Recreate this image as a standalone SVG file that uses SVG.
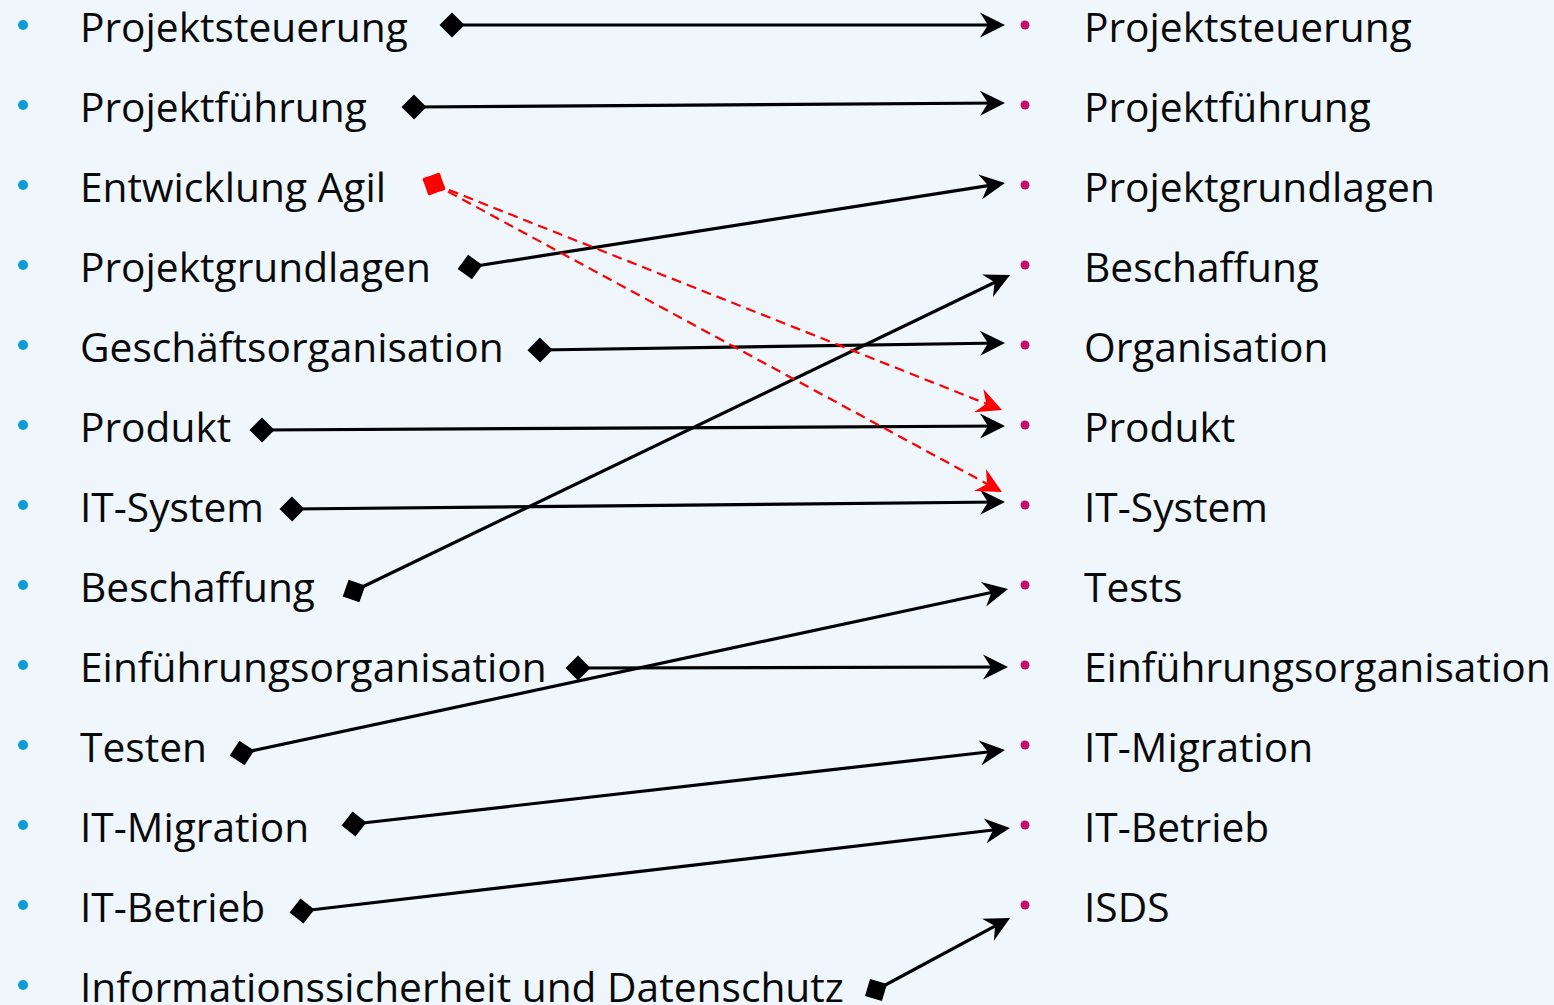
<svg xmlns="http://www.w3.org/2000/svg" width="1554" height="1005" viewBox="0 0 1554 1005">
<style>
.t{font-family:"Open Sans","Liberation Sans",sans-serif;font-size:40.7px;fill:#0a0a0a}
.bl{fill:#0E9BDB}
.br{fill:#C0106B}
.c{fill:none;stroke:#000;stroke-width:3.2;marker-start:url(#dia);marker-end:url(#arr)}
.r{fill:none;stroke:#FF0000;stroke-width:2.2;stroke-dasharray:10 6;marker-start:url(#diaR);marker-end:url(#arrR)}
</style>
<defs>
<marker id="dia" markerUnits="userSpaceOnUse" markerWidth="26" markerHeight="26" refX="12.5" refY="12.5" orient="auto" overflow="visible"><path d="M0,12.5 L12.5,0 L25,12.5 L12.5,25 Z" fill="#000"/></marker>
<marker id="diaR" markerUnits="userSpaceOnUse" markerWidth="26" markerHeight="26" refX="12.5" refY="12.5" orient="auto" overflow="visible"><path d="M0,12.5 L12.5,0 L25,12.5 L12.5,25 Z" fill="#FF0000"/></marker>
<marker id="arr" markerUnits="userSpaceOnUse" markerWidth="26" markerHeight="26" refX="21" refY="12.5" orient="auto" overflow="visible"><path d="M0,0 L25,12.5 L0,25 L8,12.5 Z" fill="#000"/></marker>
<marker id="arrR" markerUnits="userSpaceOnUse" markerWidth="26" markerHeight="26" refX="21" refY="12.5" orient="auto" overflow="visible"><path d="M0,0 L25,12.5 L0,25 L8,12.5 Z" fill="#FF0000"/></marker>
</defs>
<rect x="0" y="0" width="1554" height="1005" fill="#EFF7FD"/>
<g id="left">
<g id="l1"><circle class="bl" cx="23" cy="25" r="5"/><text class="t" x="80" y="42">Projektsteuerung</text></g>
<g id="l2"><circle class="bl" cx="23" cy="105" r="5"/><text class="t" x="80" y="122">Projektführung</text></g>
<g id="l3"><circle class="bl" cx="23" cy="185" r="5"/><text class="t" x="80" y="202">Entwicklung Agil</text></g>
<g id="l4"><circle class="bl" cx="23" cy="265" r="5"/><text class="t" x="80" y="282">Projektgrundlagen</text></g>
<g id="l5"><circle class="bl" cx="23" cy="345" r="5"/><text class="t" x="80" y="362">Geschäftsorganisation</text></g>
<g id="l6"><circle class="bl" cx="23" cy="425" r="5"/><text class="t" x="80" y="442">Produkt</text></g>
<g id="l7"><circle class="bl" cx="23" cy="505" r="5"/><text class="t" x="80" y="522">IT-System</text></g>
<g id="l8"><circle class="bl" cx="23" cy="585" r="5"/><text class="t" x="80" y="602">Beschaffung</text></g>
<g id="l9"><circle class="bl" cx="23" cy="665" r="5"/><text class="t" x="80" y="682">Einführungsorganisation</text></g>
<g id="l10"><circle class="bl" cx="23" cy="745" r="5"/><text class="t" x="80" y="762">Testen</text></g>
<g id="l11"><circle class="bl" cx="23" cy="825" r="5"/><text class="t" x="80" y="842">IT-Migration</text></g>
<g id="l12"><circle class="bl" cx="23" cy="905" r="5"/><text class="t" x="80" y="922">IT-Betrieb</text></g>
<g id="l13"><circle class="bl" cx="23" cy="985" r="5"/><text class="t" x="80" y="1002">Informationssicherheit und Datenschutz</text></g>
</g>
<g id="right">
<g id="r1"><circle class="br" cx="1025" cy="25" r="4.5"/><text class="t" x="1084" y="42">Projektsteuerung</text></g>
<g id="r2"><circle class="br" cx="1025" cy="105" r="4.5"/><text class="t" x="1084" y="122">Projektführung</text></g>
<g id="r3"><circle class="br" cx="1025" cy="185" r="4.5"/><text class="t" x="1084" y="202">Projektgrundlagen</text></g>
<g id="r4"><circle class="br" cx="1025" cy="265" r="4.5"/><text class="t" x="1084" y="282">Beschaffung</text></g>
<g id="r5"><circle class="br" cx="1025" cy="345" r="4.5"/><text class="t" x="1084" y="362">Organisation</text></g>
<g id="r6"><circle class="br" cx="1025" cy="425" r="4.5"/><text class="t" x="1084" y="442">Produkt</text></g>
<g id="r7"><circle class="br" cx="1025" cy="505" r="4.5"/><text class="t" x="1084" y="522">IT-System</text></g>
<g id="r8"><circle class="br" cx="1025" cy="585" r="4.5"/><text class="t" x="1084" y="602">Tests</text></g>
<g id="r9"><circle class="br" cx="1025" cy="665" r="4.5"/><text class="t" x="1084" y="682">Einführungsorganisation</text></g>
<g id="r10"><circle class="br" cx="1025" cy="745" r="4.5"/><text class="t" x="1084" y="762">IT-Migration</text></g>
<g id="r11"><circle class="br" cx="1025" cy="825" r="4.5"/><text class="t" x="1084" y="842">IT-Betrieb</text></g>
<g id="r12"><circle class="br" cx="1025" cy="905" r="4.5"/><text class="t" x="1084" y="922">ISDS</text></g>
</g>
<g id="connectors">
<line class="c" x1="452" y1="25" x2="1001" y2="25"/>
<line class="c" x1="414" y1="107" x2="1001" y2="103"/>
<line class="c" x1="470" y1="267" x2="1001" y2="183.6"/>
<line class="c" x1="540" y1="350" x2="1001" y2="343"/>
<line class="c" x1="262" y1="430" x2="1001" y2="426"/>
<line class="c" x1="292" y1="509" x2="1001" y2="502"/>
<line class="c" x1="354" y1="591" x2="1006.4" y2="276.7"/>
<line class="c" x1="578" y1="668" x2="1004" y2="667"/>
<line class="c" x1="242" y1="753" x2="1004.1" y2="589.8"/>
<line class="c" x1="354" y1="824" x2="1001" y2="750.5"/>
<line class="c" x1="302" y1="911" x2="1006" y2="828.5"/>
<line class="c" x1="876" y1="990" x2="1006.5" y2="919.9"/>
<line class="r" x1="434" y1="184" x2="998.3" y2="408.5"/>
<line class="r" x1="434" y1="184" x2="998.5" y2="490.1"/>
</g>
</svg>
